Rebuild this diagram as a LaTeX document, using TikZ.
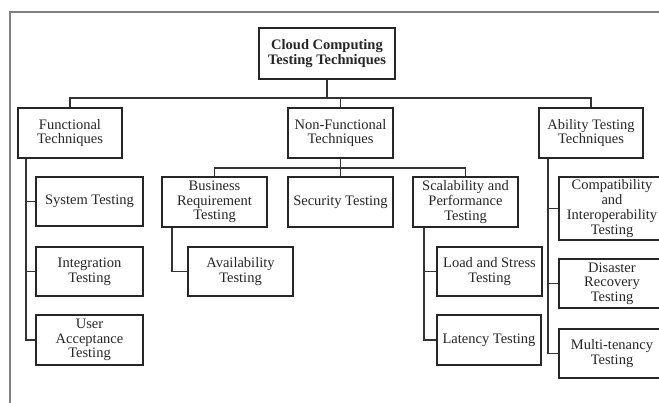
\documentclass[tikz,border=0pt]{standalone}
\usepackage{fontspec}
\setmainfont{Liberation Serif}
\begin{document}
\begin{tikzpicture}[x=1pt,y=-1pt,
  box/.style={draw=black!85,line width=1.8pt,fill=white,inner sep=0pt,align=center,text=black!85},
  rootbox/.style={box,font=\fontsize{14.5}{15}\selectfont\bfseries},
  midbox/.style={box,font=\fontsize{14.5}{14.3}\selectfont},
  leafbox/.style={box,font=\fontsize{14.5}{14.7}\selectfont},
  link/.style={draw=black!80,line width=1.8pt},
  frame/.style={draw=black!50,line width=1.8pt}]
\useasboundingbox (0,0) rectangle (659,403);
\clip (0,0) rectangle (659,403);
\fill[white] (0,0) rectangle (659,403);
\coordinate (fc) at (10,12);
\draw[frame] (10,403) -- (fc) -- (670,12);
% connectors (drawn first)
\coordinate (bus) at (0,98);
\coordinate (nfbus) at (0,168);
\coordinate (rootpos) at (327,53.5);
\coordinate (funcpos) at (70,133);
\coordinate (nfpos) at (340.5,133);
\coordinate (abilpos) at (591,133);
% nodes
\node[rootbox,minimum width=136pt,minimum height=51pt] (root) at (rootpos) {Cloud Computing\\Testing Techniques};
\node[midbox,minimum width=104pt,minimum height=50pt] (func) at (funcpos) {Functional\\Techniques};
\node[midbox,minimum width=105pt,minimum height=50pt] (nf) at (nfpos) {Non-Functional\\Techniques};
\node[midbox,minimum width=104pt,minimum height=50pt] (abil) at (abilpos) {Ability Testing\\Techniques};
\node[leafbox,minimum width=107pt,minimum height=49pt] (sys) at (89.5,201.5) {System Testing};
\node[leafbox,minimum width=107pt,minimum height=49pt] (integ) at (89.5,271.5) {Integration\\Testing};
\node[leafbox,minimum width=107pt,minimum height=50pt] (uat) at (89.5,340) {User\\Acceptance\\Testing};
\node[leafbox,minimum width=105pt,minimum height=50pt] (brt) at (214.5,202) {Business\\Requirement\\Testing};
\node[leafbox,minimum width=105pt,minimum height=50pt] (sec) at (340.5,202) {Security Testing};
\node[leafbox,minimum width=105pt,minimum height=50pt] (scal) at (465.5,202) {Scalability and\\Performance\\Testing};
\node[leafbox,minimum width=105pt,minimum height=49pt] (avail) at (240.5,271.5) {Availability\\Testing};
\node[leafbox,minimum width=105pt,minimum height=49pt] (load) at (489.5,271.5) {Load and Stress\\Testing};
\node[leafbox,minimum width=104pt,minimum height=50pt] (lat) at (489,340) {Latency Testing};
\node[leafbox,minimum width=106pt,minimum height=63pt] (compat) at (612,208.5) {Compatibility\\and\\Interoperability\\Testing};
\node[leafbox,minimum width=106pt,minimum height=49pt] (dis) at (612,283.5) {Disaster\\Recovery\\Testing};
\node[leafbox,minimum width=106pt,minimum height=49pt] (multi) at (612,353.5) {Multi-tenancy\\Testing};
% connectors
\path[link] (func.north) -- (func.north |- bus) -| (abil.north);
\path[link] (root.south) -- (root.south |- bus);
\path[link] (nf.north) -- (nf.north |- bus);
\path[link] (brt.north) -- (brt.north |- nfbus) -| (scal.north);
\path[link] (nf.south) -- (sec.north);
\path[link] ([xshift=11pt]brt.south west) |- (avail.west);
\path[link] ([xshift=9pt]func.south west) |- (uat.west);
\path[link] ([xshift=9pt]func.south west) |- (sys.west);
\path[link] ([xshift=9pt]func.south west) |- (integ.west);
\path[link] ([xshift=12pt]scal.south west) |- (lat.west);
\path[link] ([xshift=12pt]scal.south west) |- (load.west);
\path[link] ([xshift=10pt]abil.south west) |- (multi.west);
\path[link] ([xshift=10pt]abil.south west) |- (compat.west);
\path[link] ([xshift=10pt]abil.south west) |- (dis.west);
\end{tikzpicture}
\end{document}
